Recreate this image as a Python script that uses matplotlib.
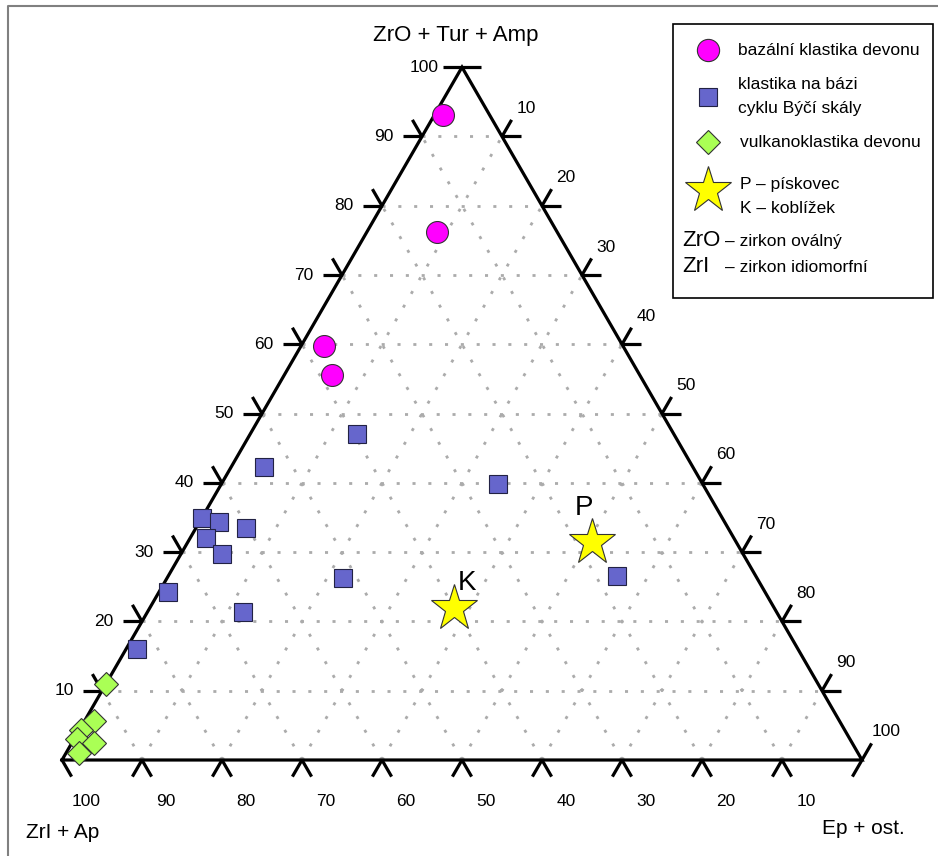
import numpy as np
import matplotlib
matplotlib.use("Agg")
from matplotlib import pyplot as plt
from matplotlib.patches import Rectangle

plt.rcParams['font.family'] = ['Liberation Sans', 'DejaVu Sans']

# values in % : ZrO+Tur+Amp (top corner), Ep+ost. (right corner), ZrI+Ap = rest
bazalni_zro = [93.1, 76.2, 59.8, 55.5]
bazalni_ep  = [1.1, 8.8, 2.8, 6.0]

byci_zro = [47.1, 42.3, 39.8, 34.9, 34.3, 33.5, 32.1, 29.7, 24.2, 21.3, 26.3, 26.6, 16.0]
byci_ep  = [13.3, 4.1, 34.6, 0.0, 2.5, 6.3, 2.0, 5.2, 1.1, 12.0, 22.0, 56.1, 1.4]

vulkano_zro = [10.9, 5.6, 4.4, 3.1, 2.4, 1.05]
vulkano_ep  = [0.0, 1.2, 0.2, 0.3, 2.8, 1.6]

star_names = ['P', 'K']
star_zro = [31.5, 21.9]
star_ep  = [50.5, 38.0]

grid_values = [10, 20, 30, 40, 50, 60, 70, 80, 90]
tick_labels = ['10', '20', '30', '40', '50', '60', '70', '80', '90', '100']

S = np.sqrt(3) / 2
L = 0.024  # tick length


def to_xy(zro, ep):
    t = np.asarray(zro, dtype=float) / 100.
    r = np.asarray(ep, dtype=float) / 100.
    return r + t / 2, t * S


fig = plt.figure(figsize=(9.38, 8.56), dpi=100)

# pixel overlay for texts / legend / frame
pax = fig.add_axes([0, 0, 1, 1])
pax.set_xlim(0, 938)
pax.set_ylim(856, 0)
pax.axis('off')

ax = fig.add_axes([62/938, 96/856, 800/938, 692.8/856])
ax.set_xlim(0, 1)
ax.set_ylim(0, S)
ax.axis('off')

# dotted grid
gkw = dict(color='#ababab', lw=2.0, linestyle=(0, (1.1, 4.6)), zorder=1)
for v in grid_values:
    f = v / 100.
    ax.plot([f/2, 1 - f/2], [f*S, f*S], **gkw)
    ax.plot([f, 0.5 + f/2], [0, (1 - f)*S], **gkw)
    ax.plot([1 - f, (1 - f)/2], [0, (1 - f)*S], **gkw)

# triangle
ax.plot([0, 1, 0.5, 0], [0, 0, S, 0], color='black', lw=2.3, zorder=2,
        solid_joinstyle='miter', clip_on=False)

tkw = dict(color='black', lw=2.3, zorder=2, clip_on=False, solid_capstyle='butt')
for i in range(11):
    f = i / 10.
    # left side (ZrO)
    x, y = f/2, f*S
    if i > 0:
        ax.plot([x, x - L], [y, y], **tkw)
    if 0 < i < 10:
        ax.plot([x, x - L/2], [y, y + L*S], **tkw)
    # right side (Ep)
    x, y = 0.5 + f/2, (1 - f)*S
    if i < 10:
        ax.plot([x, x + L], [y, y], **tkw)
    if i > 0:
        ax.plot([x, x + L/2], [y, y + L*S], **tkw)
    # bottom (ZrI)
    if i < 10:
        ax.plot([f, f + L/2], [0, -L*S], **tkw)
    if i > 0:
        ax.plot([f, f - L/2], [0, -L*S], **tkw)

lkw = dict(textcoords='offset pixels', ha='center', va='center', fontsize=12.5)
for i, lab in enumerate(tick_labels):
    f = (i + 1) / 10.
    ax.annotate(lab, (f/2, f*S), xytext=(-38, 0), **lkw)
    ax.annotate(lab, (0.5 + f/2, (1 - f)*S), xytext=(24, 28), **lkw)
    ax.annotate(lab, (1 - f, 0), xytext=(24, -42), **lkw)

# data
x, y = to_xy(vulkano_zro, vulkano_ep)
ax.plot(x, y, 'D', ms=11.8, mfc='#aaff55', mec='#333333', mew=0.8, zorder=5, clip_on=False)
x, y = to_xy(byci_zro, byci_ep)
ax.plot(x, y, 's', ms=12.8, mfc='#6666cc', mec='#222244', mew=0.8, zorder=5, clip_on=False)
x, y = to_xy(bazalni_zro, bazalni_ep)
ax.plot(x, y, 'o', ms=15.8, mfc='#ff00ff', mec='#333333', mew=0.8, zorder=5, clip_on=False)
x, y = to_xy(star_zro, star_ep)
ax.plot(x, y, '*', ms=35, mfc='#ffff00', mec='#333333', mew=0.8, zorder=5, clip_on=False)
for name, xx, yy, off in zip(star_names, x, y, [(-8, 34), (13, 25)]):
    ax.annotate(name, (xx, yy), xytext=off, textcoords='offset pixels',
                ha='center', va='center', fontsize=20)

# corner titles
pax.text(456, 35, 'ZrO + Tur + Amp', ha='center', va='center', fontsize=16)
pax.text(26, 832, 'ZrI + Ap', ha='left', va='center', fontsize=15)
pax.text(822, 829, 'Ep + ost.', ha='left', va='center', fontsize=15)

# frame lines (only left and top)
pax.plot([8, 8, 938], [856, 6, 6], color='#808080', lw=1.5)

# legend
pax.add_patch(Rectangle((673, 24), 260, 274, fill=False, ec='black', lw=1.2))
pax.plot([708], [50], 'o', ms=16, mfc='#ff00ff', mec='#333333', mew=0.8)
pax.plot([708], [97], 's', ms=12.5, mfc='#6666cc', mec='#222244', mew=0.8)
pax.plot([708], [142], 'D', ms=11.8, mfc='#aaff55', mec='#333333', mew=0.8)
pax.plot([708], [190], '*', ms=35, mfc='#ffff00', mec='#333333', mew=0.8)
tk = dict(ha='left', va='center', fontsize=12.5)
pax.text(738, 50, 'bazální klastika devonu', **tk)
pax.text(738, 84, 'klastika na bázi', **tk)
pax.text(738, 108, 'cyklu Býčí skály', **tk)
pax.text(740, 142, 'vulkanoklastika devonu', **tk)
pax.text(740, 184, 'P – pískovec', **tk)
pax.text(740, 208, 'K – koblížek', **tk)
pax.text(682, 240, 'ZrO', ha='left', va='center', fontsize=16)
pax.text(725, 241, '– zirkon oválný', **tk)
pax.text(682, 266, 'ZrI', ha='left', va='center', fontsize=16)
pax.text(725, 267, '– zirkon idiomorfní', **tk)

fig.savefig('out.png', dpi=100)
